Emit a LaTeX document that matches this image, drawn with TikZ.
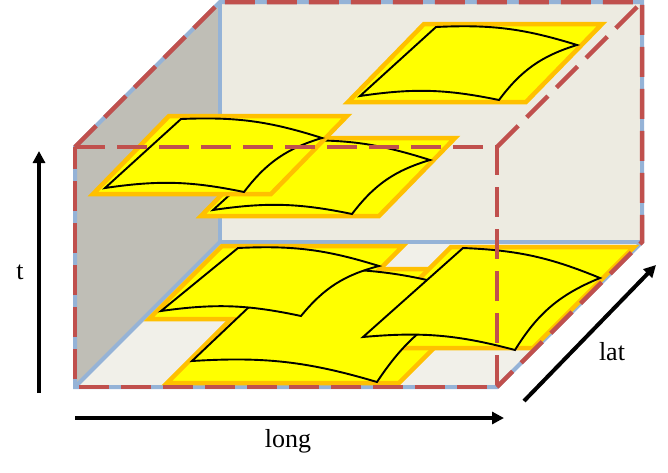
\documentclass[tikz,border=0pt]{standalone}
\usepackage{fontspec}
\setmainfont{Liberation Serif}
\usepackage{tikz}
\usetikzlibrary{arrows.meta}
\definecolor{cubered}{RGB}{192,80,77}
\definecolor{cubeblue}{RGB}{149,179,215}
\definecolor{wallbeige}{RGB}{237,235,225}
\definecolor{floorbeige}{RGB}{241,240,233}
\definecolor{wallgray}{RGB}{191,190,182}
\definecolor{sheetyellow}{RGB}{255,255,0}
\definecolor{sheetorange}{RGB}{255,192,0}

% curved patch inside a sheet: TL, TR, BR, BL
\newcommand{\sheetcurve}[4]{%
  \draw[curve] (#1) to[bend left=10] (#2) to[bend right=18] (#3) to[bend right=10] (#4) -- cycle;}

\begin{document}
\begin{tikzpicture}[
    x=1pt, y=-1pt,
    backedge/.style={cubeblue, line width=4pt},
    frontedge/.style={cubered, line width=4.5pt, dash pattern=on 30pt off 12pt},
    panel/.style={draw=sheetorange, fill=sheetyellow, line width=4.5pt},
    curve/.style={black, line width=1.9pt, fill=sheetyellow},
    axis/.style={line width=4pt, -{Triangle[length=12pt,width=12pt]}},
    axislabel/.style={font=\fontsize{26}{30}\selectfont}
]
\useasboundingbox (0,0) rectangle (668,472);

% Box corners
\coordinate (fbl) at (75,387);
\coordinate (ftl) at (75,147);
\coordinate (ftr) at (497,147);
\coordinate (fbr) at (497,387);
\coordinate (bbl) at (220,242);
\coordinate (btl) at (220,2);
\coordinate (btr) at (642,2);
\coordinate (bbr) at (642,242);

% Back walls
\fill[wallgray] (ftl) -- (btl) -- (bbl) -- (fbl) -- cycle;
\fill[wallbeige] (btl) -- (btr) -- (bbr) -- (bbl) -- cycle;
\fill[floorbeige] (bbl) -- (bbr) -- (fbr) -- (fbl) -- cycle;
\draw[backedge] (ftl) -- (btl) -- (btr) -- (bbr) -- (fbr) -- (fbl) -- cycle;
\draw[backedge] (btl) -- (bbl) -- (bbr);
\draw[backedge] (bbl) -- (fbl);

% Upper sheets
\draw[panel] (201,216) -- (277,138) -- (455,138) -- (379,216) -- cycle;
\sheetcurve{289,141}{430,160}{352,214}{213,210}
\draw[panel] (93,194) -- (169,116) -- (347,116) -- (271,194) -- cycle;
\sheetcurve{181,119}{322,138}{244,192}{105,188}
\draw[panel] (348,102) -- (424,24) -- (602,24) -- (526,102) -- cycle;
\sheetcurve{436,27}{577,45}{499,100}{360,96}

% Lower sheets
\draw[panel] (167,383) -- (281,269) -- (513,269) -- (399,383) -- cycle;
\draw[panel] (149,319) -- (222,246) -- (403,246) -- (330,319) -- cycle;
\draw[panel] (350,348) -- (451,247) -- (634,247) -- (533,348) -- cycle;
\sheetcurve{288,270}{485,296}{377,382}{192,361}
\sheetcurve{238,248}{379,266}{301,316}{161,311}
\sheetcurve{463,248}{600,278}{515,350}{363,337}

% Front edges
\draw[frontedge] (ftl) -- (ftr) -- (fbr) -- (fbl) -- cycle;
\draw[frontedge] (ftl) -- (btl) -- (btr) -- (bbr) -- (fbr);
\draw[frontedge] (ftr) -- (btr);

% Axes
\coordinate (t0) at (39,393);
\coordinate (t1) at (39,151);
\coordinate (long0) at (75,418);
\coordinate (long1) at (504,418);
\coordinate (lat0) at (524,401);
\coordinate (lat1) at (656,265);
\draw[axis] (t0) -- (t1);
\draw[axis] (long0) -- (long1);
\draw[axis] (lat0) -- (lat1);
\node[axislabel] (tlabel) at (20,272) {t};
\node[axislabel] (longlabel) at (288,441) {long};
\node[axislabel] (latlabel) at (612,352) {lat};
\end{tikzpicture}
\end{document}
